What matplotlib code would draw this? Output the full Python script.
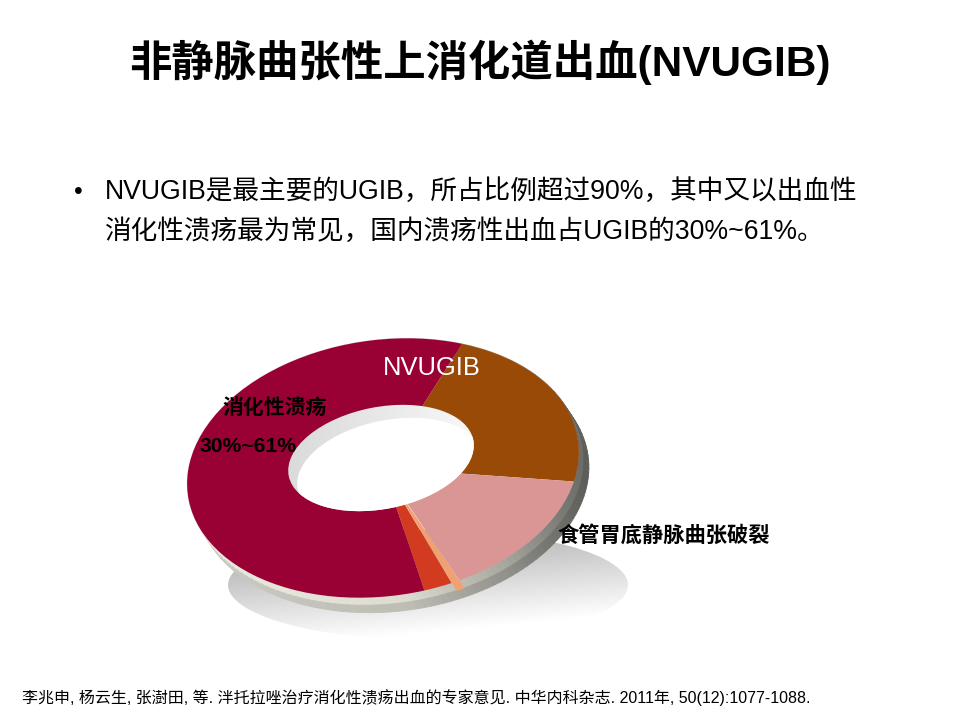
import numpy as np
import matplotlib
matplotlib.use('Agg')
import matplotlib.pyplot as plt
from matplotlib.patches import Ellipse
from matplotlib.transforms import Affine2D
from matplotlib.collections import PolyCollection
from matplotlib.colors import to_rgb

plt.rcParams['font.family'] = ['Liberation Sans', 'Noto Sans CJK SC', 'DejaVu Sans']

# 数据
categories = ['其他NVUGIB', '食管胃底静脉曲张破裂', '其他', '其他出血', '消化性溃疡']
values = [22, 15, 0.7, 2.3, 60]
colors = ['#994a07', '#d99694', '#f2a070', '#d33b21', '#990033']
explode = [0, 0, 0.07, 0, 0]

title = '非静脉曲张性上消化道出血(NVUGIB)'
bullet_lines = ['NVUGIB是最主要的UGIB，所占比例超过90%，其中又以出血性',
                '消化性溃疡最为常见，国内溃疡性出血占UGIB的30%~61%。']
ref_text = ('李兆申, 杨云生, 张澍田, 等. 泮托拉唑治疗消化性溃疡出血的专家意见. '
            '中华内科杂志. 2011年, 50(12):1077-1088.')

fig = plt.figure(figsize=(9.6, 7.2), dpi=100)
ax = fig.add_axes([0, 0, 1, 1])

# 斜视的环形图：顶面、侧面、内孔、阴影
cx, cy, rx, ry, tilt = 383, 468, 197, 128, 8
off = (10, 15)
face = Affine2D().scale(rx, -ry).rotate_deg(-tilt).translate(cx, cy)

# 阴影
sx0, sx1, sy0, sy1 = 228, 628, 530, 640
gx, gy = np.meshgrid(np.linspace(0, 1, 200), np.linspace(0, 1, 80))
shade = np.clip(0.62 + 0.12 * gx + 0.34 * gy, 0, 1)
im = ax.imshow(shade, cmap='gray', vmin=0, vmax=1, extent=(sx0, sx1, sy1, sy0),
               origin='upper', zorder=0, interpolation='bilinear')
sh = Ellipse(((sx0 + sx1) / 2, (sy0 + sy1) / 2), sx1 - sx0, sy1 - sy0,
             transform=ax.transData, facecolor='none', edgecolor='none')
ax.add_patch(sh)
im.set_clip_path(sh)

# 侧面
th = np.radians(np.arange(0, 361, 2))
ring = face.transform(np.column_stack([np.cos(th), np.sin(th)]))
stops_t = [0, 0.55, 0.8, 1.0]
stops_c = np.array([to_rgb(c) for c in ['#edece4', '#dddcd1', '#a8a8a1', '#6b6b67']])
quads, qcols = [], []
for i in range(len(ring) - 1):
    p, q = ring[i], ring[i + 1]
    t = ((p[0] + q[0]) / 2 - (cx - rx)) / (2 * rx)
    c = np.array([np.interp(t, stops_t, stops_c[:, k]) for k in range(3)])
    for a0, a1, f in [(0, 0.5, 1.0), (0.5, 1.0, 0.86)]:
        d0 = np.array(off) * a0
        d1 = np.array(off) * a1
        quads.append([p + d0, q + d0, q + d1, p + d1])
        qcols.append(c * f)
ax.add_collection(PolyCollection(quads, facecolors=qcols, edgecolors=qcols,
                                 linewidths=0.6, zorder=1))

# 顶面（饼图）
wedges, _ = ax.pie(values, colors=colors, startangle=61, counterclock=False,
                   explode=explode, radius=1, center=(0, 0),
                   wedgeprops=dict(linewidth=0))
for w in wedges:
    w.set_transform(face + ax.transData)
    w.set_zorder(2)
wedges[2].set_zorder(1.5)

# 内孔
hx, hy, hrx, hry, htilt = 381, 458, 94, 51, 11
hole = Ellipse((hx, hy), 2 * hrx, 2 * hry, angle=-htilt, transform=ax.transData,
               facecolor='none', edgecolor='none', zorder=3)
ax.add_patch(hole)
wx, wy = np.meshgrid(np.linspace(0, 1, 100), np.linspace(0, 1, 50))
wall = ax.imshow(0.84 + 0.13 * wx + 0.02 * wy, cmap='gray', vmin=0, vmax=1,
                 extent=(hx - hrx - 5, hx + hrx + 5, hy + hry + 20, hy - hry - 20),
                 origin='upper', zorder=3, interpolation='bilinear')
wall.set_clip_path(hole)
inner = Ellipse((hx + 9, hy + 13), 2 * hrx, 2 * hry, angle=-htilt,
                facecolor='white', edgecolor='none', zorder=4)
ax.add_patch(inner)
inner.set_clip_path(hole)

# 文本
ax.text(480, 62, title, ha='center', va='center', fontsize=30.5,
        fontweight='bold', color='black')
ax.text(78, 192, '•', ha='center', va='center', fontsize=18)
for k, line in enumerate(bullet_lines):
    ax.text(105, 192 + 40 * k, line, ha='left', va='center', fontsize=19.2)

ax.text(432, 368, 'NVUGIB', ha='center', va='center', fontsize=18.4, color='white', zorder=5)
ax.text(275, 408, '消化性溃疡', ha='center', va='center', fontsize=15,
        fontweight='bold', zorder=5)
ax.text(248, 447, '30%~61%', ha='center', va='center', fontsize=15.2,
        fontweight='bold', zorder=5)
ax.text(557, 535, '食管胃底静脉曲张破裂', ha='left', va='center', fontsize=15.3,
        fontweight='bold', zorder=5)

ax.text(22, 698, ref_text, ha='left', va='center', fontsize=11.5)

ax.set_xlim(0, 960)
ax.set_ylim(720, 0)
ax.set_aspect('auto')
ax.axis('off')

fig.savefig('out.png', dpi=100, facecolor='white')
